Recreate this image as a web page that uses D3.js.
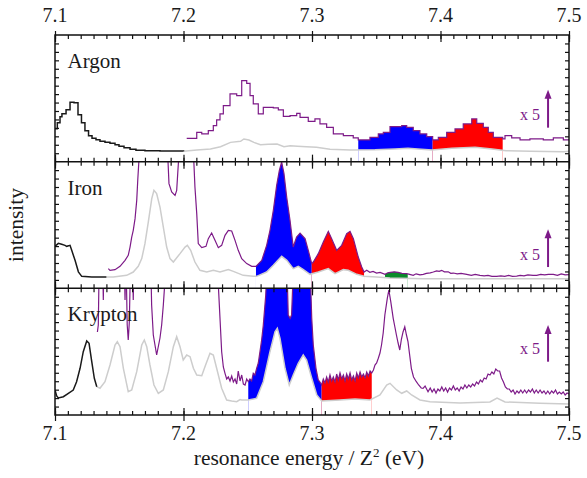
<!DOCTYPE html>
<html><head><meta charset="utf-8">
<script src="https://cdn.jsdelivr.net/npm/d3@7"></script>
<style>
html,body{margin:0;padding:0;background:#fff;}
svg{display:block;}
text{font-family:"Liberation Serif","Times New Roman",serif;fill:#1a1a1a;}
</style></head><body>
<svg id="c" width="587" height="478"></svg>
<script>
// ---------------- data ----------------
const panelNames = ["Argon", "Iron", "Krypton"];
const xTickValues = [7.1, 7.2, 7.3, 7.4, 7.5];
const xTickLabels = ["7.1", "7.2", "7.3", "7.4", "7.5"];
const xTitle = ["resonance energy / Z", "2", " (eV)"];
const yTitle = "intensity";
const scaleNote = "x 5";

const argonBlack = [[7.1000,33],[7.1018,39],[7.1039,45],[7.1054,48],[7.1086,52],[7.1117,59.5],[7.1148,59],[7.1179,47],[7.1206,39],[7.1233,31],[7.1261,26],[7.1288,23.5],[7.1319,22],[7.1350,20.5],[7.1389,19.5],[7.1428,18.5],[7.1467,17],[7.1498,15.5],[7.1537,14],[7.1584,12.5],[7.1630,11.5],[7.1700,11],[7.1817,10.7],[7.2000,10.5]];
const argonGray = [[7.2000,10.5],[7.2104,11.7],[7.2210,12.7],[7.2288,15],[7.2366,19.3],[7.2444,20.3],[7.2470,22.7],[7.2509,21.7],[7.2548,19.3],[7.2599,17],[7.2660,17.5],[7.2728,17.7],[7.2782,15],[7.2830,15.8],[7.2887,15.5],[7.2957,15],[7.3035,14.3],[7.3140,12.5],[7.3296,11.7],[7.3490,12],[7.3646,12.7],[7.3747,13.3],[7.3850,12.5],[7.3934,11.7],[7.4089,13.3],[7.4269,14.3],[7.4401,12.7],[7.4510,11],[7.4700,10.3],[7.4960,10],[7.5000,10.3]];
const argonPurple = [[7.2025,23.3],[7.2103,29.3],[7.2142,27.7],[7.2193,31],[7.2232,36],[7.2258,41.7],[7.2284,47.7],[7.2310,56],[7.2362,67.7],[7.2414,66],[7.2453,81],[7.2492,78.3],[7.2518,66],[7.2543,57.7],[7.2582,47.7],[7.2621,54.3],[7.2699,53.7],[7.2738,51.7],[7.2777,45.3],[7.2829,46],[7.2881,48.3],[7.2907,44.3],[7.2971,40.3],[7.3023,42.7],[7.3062,37.7],[7.3114,34.3],[7.3166,27.7],[7.3244,26],[7.3321,23.7],[7.3360,21.7],[7.3451,24.3],[7.3516,27.7],[7.3555,29.3],[7.3607,35],[7.3698,36],[7.3737,34.3],[7.3788,31],[7.3840,27.7],[7.3893,25],[7.3939,21.7],[7.3983,24.3],[7.4048,29.3],[7.4113,32.7],[7.4177,37.7],[7.4243,42.7],[7.4282,38.3],[7.4333,34.3],[7.4372,29.3],[7.4411,24.3],[7.4484,22.7],[7.4502,26],[7.4554,23.7],[7.4619,21.7],[7.4696,22.7],[7.4800,21.7],[7.4878,23.7],[7.4956,21.7],[7.5000,22.7]];
const argonRegions = [[7.3360,7.3939],[7.3939,7.4484]];

const ironBlack = [[7.1000,42],[7.1026,45],[7.1052,44],[7.1078,43],[7.1091,42],[7.1117,43],[7.1130,38],[7.1156,28],[7.1182,16.5],[7.1208,12],[7.1286,11.3],[7.1400,11.3]];
const ironGray = [[7.1400,11.3],[7.1454,11.3],[7.1558,13],[7.1609,16.3],[7.1648,22],[7.1675,29.7],[7.1700,44.7],[7.1726,66.3],[7.1753,89.7],[7.1770,98],[7.1791,94.7],[7.1817,81.3],[7.1843,61.3],[7.1869,41.3],[7.1895,29.7],[7.1921,26.3],[7.1973,34.7],[7.2012,41.3],[7.2030,43],[7.2056,38],[7.2089,26.3],[7.2128,18],[7.2181,16.3],[7.2232,18],[7.2284,16.3],[7.2349,18.7],[7.2388,17],[7.2465,13],[7.2543,12],[7.2569,12],[7.2647,16.3],[7.2699,23],[7.2764,32],[7.2804,28],[7.2854,19.7],[7.2893,22],[7.2930,19],[7.2984,14],[7.3049,16.3],[7.3127,19.7],[7.3179,14.7],[7.3244,18.7],[7.3282,18],[7.3348,14],[7.3405,12],[7.3503,11.3],[7.3607,10.3],[7.3866,9.7],[7.4385,9.7],[7.5000,9.7]];
const ironPurple = [[7.1415,19.7],[7.1428,18],[7.1467,18.7],[7.1506,22],[7.1545,28],[7.1570,33],[7.1584,41.3],[7.1597,51.3],[7.1609,58],[7.1623,69.7],[7.1636,88],[7.1644,108],[7.1654,130],[7.1675,200],[7.1726,330],[7.1770,470],[7.1817,390],[7.1850,220],[7.1875,140],[7.1887,104.7],[7.1908,96.3],[7.1934,93],[7.1947,98],[7.1955,114.7],[7.1965,135],[7.2012,190],[7.2040,200],[7.2065,150],[7.2080,128],[7.2089,101.3],[7.2103,74.7],[7.2115,44.7],[7.2142,40.7],[7.2175,42],[7.2193,49.7],[7.2219,55.3],[7.2245,48],[7.2271,40.7],[7.2297,43],[7.2323,53],[7.2349,58],[7.2375,57.3],[7.2401,48],[7.2426,38],[7.2453,29.7],[7.2492,24.7],[7.2531,22],[7.2564,22],[7.2609,28],[7.2647,43],[7.2673,58],[7.2699,78],[7.2725,103],[7.2746,118],[7.2764,126.3],[7.2782,114.7],[7.2803,91.3],[7.2829,68],[7.2854,41.3],[7.2880,51.3],[7.2907,55.3],[7.2946,49.7],[7.2971,38],[7.2998,24.7],[7.3010,26.3],[7.3049,34.7],[7.3088,46.3],[7.3127,57],[7.3153,49.7],[7.3192,38],[7.3231,43],[7.3270,54.7],[7.3296,57],[7.3322,49.7],[7.3360,31.3],[7.3387,21.3],[7.3405,16.3],[7.3426,18],[7.3450,16],[7.3475,17],[7.3503,15.3],[7.3530,16],[7.3568,14],[7.3590,15.5],[7.3610,16],[7.3640,16.5],[7.3670,16],[7.3700,15],[7.3737,14.7],[7.3760,14],[7.3788,13],[7.3810,14.5],[7.3840,13.5],[7.3866,14],[7.3890,15],[7.3920,15.5],[7.3944,16.3],[7.3970,17.5],[7.3990,17],[7.4009,18],[7.4030,16.5],[7.4060,16.5],[7.4080,15],[7.4100,15.3],[7.4130,14.5],[7.4160,15],[7.4204,14],[7.4240,13],[7.4270,14],[7.4307,13],[7.4340,12.5],[7.4370,13],[7.4400,12],[7.4437,12],[7.4470,12.5],[7.4500,12],[7.4530,13],[7.4560,12],[7.4593,12.3],[7.4620,13],[7.4650,12.5],[7.4680,13.5],[7.4720,13],[7.4749,13],[7.4780,14],[7.4810,13.5],[7.4840,14],[7.4878,14],[7.4910,13],[7.4940,14.5],[7.4970,13.5],[7.5000,13.7]];
const ironRegions = [[7.2564,7.2998],[7.2998,7.3405],[7.3568,7.3745]];

const kryptonBlack = [[7.1000,25],[7.1013,19],[7.1026,17],[7.1065,18.3],[7.1104,21.7],[7.1142,25],[7.1168,33.3],[7.1195,46.7],[7.1220,63.3],[7.1247,74],[7.1265,71.7],[7.1286,53.3],[7.1306,36.7],[7.1325,28.3]];
const kryptonGray = [[7.1325,28.3],[7.1350,26.7],[7.1389,33.3],[7.1428,50],[7.1467,70],[7.1485,73.3],[7.1506,68.3],[7.1532,46.7],[7.1570,23.3],[7.1597,25],[7.1636,43.3],[7.1675,70],[7.1695,75],[7.1714,68.3],[7.1739,50],[7.1770,30],[7.1804,21.7],[7.1843,25],[7.1882,43.3],[7.1921,68.3],[7.1947,78.3],[7.1973,68.3],[7.1998,55],[7.2025,60],[7.2051,58.3],[7.2077,46.7],[7.2103,40],[7.2142,39.3],[7.2167,48.3],[7.2206,61.7],[7.2232,60],[7.2258,46.7],[7.2297,26.7],[7.2336,15],[7.2375,14],[7.2414,13.3],[7.2440,15.5],[7.2453,15],[7.2504,15],[7.2569,16.7],[7.2621,33.3],[7.2673,63.3],[7.2712,83.3],[7.2730,86.7],[7.2751,76.7],[7.2790,46.7],[7.2823,30],[7.2854,40],[7.2893,51.7],[7.2932,60],[7.2958,55],[7.2998,36.7],[7.3037,20],[7.3075,14],[7.3218,15],[7.3335,16],[7.3451,15],[7.3529,20],[7.3581,30],[7.3607,31.7],[7.3659,25],[7.3698,21.7],[7.3737,24],[7.3775,20],[7.3840,15],[7.3918,13.3],[7.4152,12],[7.4385,13],[7.4440,17],[7.4502,13],[7.4774,11.7],[7.5000,11]];
const kryptonPurple = [[7.1330,83],[7.1337,90],[7.1342,135],[7.1360,140],[7.1372,145],[7.1376,115],[7.1380,150],[7.1428,220],[7.1467,300],[7.1506,290],[7.1532,180],[7.1541,140],[7.1545,115],[7.1549,140],[7.1555,140],[7.1562,90],[7.1570,75],[7.1578,92],[7.1586,140],[7.1605,140],[7.1609,115],[7.1613,150],[7.1675,300],[7.1714,300],[7.1739,200],[7.1748,135],[7.1752,110],[7.1765,80],[7.1791,60],[7.1817,77],[7.1830,90],[7.1843,110],[7.1856,135],[7.1882,170],[7.1947,330],[7.2025,250],[7.2103,150],[7.2142,150],[7.2206,260],[7.2258,180],[7.2271,130],[7.2284,96.7],[7.2297,63.3],[7.2310,48],[7.2323,41.7],[7.2336,36],[7.2349,38],[7.2362,34],[7.2375,39],[7.2388,33],[7.2401,36],[7.2414,31],[7.2426,44],[7.2440,34],[7.2453,40],[7.2466,31],[7.2479,30],[7.2492,36],[7.2504,33.3],[7.2517,36],[7.2530,34],[7.2543,41.7],[7.2556,40],[7.2569,46.7],[7.2582,52],[7.2595,63.3],[7.2608,75],[7.2621,90],[7.2640,120],[7.2660,180],[7.2700,350],[7.2750,450],[7.2790,250],[7.2805,150],[7.2815,100],[7.2830,96.7],[7.2841,100],[7.2856,150],[7.2900,300],[7.2950,250],[7.2985,150],[7.2998,96.7],[7.3010,70],[7.3031,46.7],[7.3049,35],[7.3062,33],[7.3075,30],[7.3088,36],[7.3101,32],[7.3114,38],[7.3127,33],[7.3140,40],[7.3153,34],[7.3166,38],[7.3179,33],[7.3192,41],[7.3205,35],[7.3218,42],[7.3231,36],[7.3244,40],[7.3257,34],[7.3270,41],[7.3283,36],[7.3296,42],[7.3309,35],[7.3322,39],[7.3335,34],[7.3348,42],[7.3361,37],[7.3374,43],[7.3387,38],[7.3400,41],[7.3413,37],[7.3426,43],[7.3439,39],[7.3452,44],[7.3465,42],[7.3478,45],[7.3490,50],[7.3503,52],[7.3516,56.7],[7.3529,62],[7.3541,70],[7.3554,82],[7.3567,100],[7.3586,116.7],[7.3598,125],[7.3613,113.3],[7.3632,96.7],[7.3645,88],[7.3657,80],[7.3670,72],[7.3683,65],[7.3696,76],[7.3709,83.3],[7.3722,88.3],[7.3735,80],[7.3747,73.3],[7.3760,60],[7.3773,46.7],[7.3790,38],[7.3812,33.3],[7.3830,30],[7.3850,27],[7.3864,26.7],[7.3880,29],[7.3903,23.3],[7.3920,27],[7.3935,23],[7.3950,26],[7.3965,22],[7.3980,26],[7.3995,24],[7.4010,28],[7.4025,24],[7.4040,27],[7.4055,23],[7.4070,27],[7.4085,25],[7.4100,29],[7.4115,25],[7.4130,27],[7.4145,24],[7.4160,28],[7.4175,26],[7.4190,30],[7.4205,27],[7.4220,30],[7.4235,28],[7.4250,31],[7.4265,29],[7.4280,33],[7.4295,31],[7.4310,35],[7.4325,33],[7.4340,37],[7.4355,36],[7.4370,41],[7.4385,40],[7.4400,43],[7.4415,41],[7.4430,46],[7.4445,44],[7.4460,44],[7.4475,37],[7.4490,33],[7.4505,28],[7.4520,26],[7.4535,26],[7.4550,23],[7.4565,25],[7.4580,21],[7.4595,24],[7.4610,22],[7.4625,25],[7.4640,22],[7.4655,25],[7.4670,22],[7.4685,25],[7.4700,23],[7.4715,26],[7.4730,22],[7.4745,25],[7.4760,22],[7.4775,25],[7.4790,22],[7.4805,24],[7.4820,21],[7.4835,24],[7.4850,21],[7.4865,24],[7.4880,22],[7.4895,25],[7.4910,21],[7.4925,23],[7.4940,21],[7.4955,23],[7.4970,20],[7.4985,22],[7.5000,21]];
const kryptonRegions = [[7.2504,7.3075],[7.3075,7.3465]];

// ---------------- layout & styles ----------------
const L = 55, R = 569, T = 35, B = 415;
const ph = (B - T) / 3;
const regionColors = ["#0000ff", "#ff0000", "#0a8a2a"];
const purpleColor = "#7d1a88", grayColor = "#cdcdcd", blackColor = "#1a1a1a";
const arrowX = 7.4837, noteX = 7.4774;
const arrowSpans = [[34, 72], [21.3, 59], [53.3, 90]];
const noteBase = [42, 28.7, 61];

const panels = [
  {black: argonBlack, gray: argonGray, purple: argonPurple, regions: argonRegions, step: true},
  {black: ironBlack, gray: ironGray, purple: ironPurple, regions: ironRegions, step: false},
  {black: kryptonBlack, gray: kryptonGray, purple: kryptonPurple, regions: kryptonRegions, step: false}
];

const svg = d3.select("#c");
const defs = svg.append("defs");
const x = d3.scaleLinear().domain([7.1, 7.5]).range([L, R]);
const minorTicks = d3.range(0, 41).map(i => +(7.1 + i * 0.01).toFixed(2));

panels.forEach((p, i) => {
  const y0 = T + ph * i, y1 = T + ph * (i + 1);
  const y = d3.scaleLinear().domain([0, ph]).range([y1, y0]);
  const cid = "clip" + i;
  defs.append("clipPath").attr("id", cid).append("rect")
    .attr("x", L).attr("y", y0).attr("width", R - L).attr("height", ph);
  const g = svg.append("g").attr("clip-path", `url(#${cid})`);
  const curve = p.step ? d3.curveStepAfter : d3.curveLinear;

  // filled regions between the x5 trace and the gray trace
  p.regions.forEach((r, k) => {
    const rid = `reg${i}_${k}`;
    defs.append("clipPath").attr("id", rid).append("rect")
      .attr("x", x(r[0])).attr("y", y0).attr("width", x(r[1]) - x(r[0])).attr("height", ph);
    const rg = g.append("g").attr("clip-path", `url(#${rid})`);
    rg.append("path").datum(p.purple)
      .attr("d", d3.area().curve(curve).x(d => x(d[0])).y0(y1).y1(d => y(d[1])))
      .attr("fill", regionColors[k]);
    rg.append("path").datum(p.gray)
      .attr("d", d3.area().x(d => x(d[0])).y0(y1 + 2).y1(d => y(d[1])))
      .attr("fill", "#fff");
  });

  const line = (c) => d3.line().curve(c).x(d => x(d[0])).y(d => y(d[1]));
  g.append("path").datum(p.gray).attr("d", line(d3.curveLinear))
    .attr("fill", "none").attr("stroke", grayColor).attr("stroke-width", 1.5);
  g.append("path").datum(p.black).attr("d", line(curve))
    .attr("fill", "none").attr("stroke", blackColor).attr("stroke-width", 1.5);
  g.append("path").datum(p.purple).attr("d", line(curve))
    .attr("fill", "none").attr("stroke", purpleColor).attr("stroke-width", 1.2);

  // panel name
  svg.append("text").attr("x", L + 12.5).attr("y", y0 + 33)
    .attr("font-size", 21).text(panelNames[i]);

  // x5 arrow and note
  const a = arrowSpans[i];
  const ax = x(arrowX);
  svg.append("line").attr("x1", ax).attr("x2", ax)
    .attr("y1", y(a[0])).attr("y2", y(a[1]) + 7)
    .attr("stroke", purpleColor).attr("stroke-width", 2);
  svg.append("path")
    .attr("d", `M${ax},${y(a[1])} L${ax - 3.5},${y(a[1]) + 9} L${ax + 3.5},${y(a[1]) + 9} Z`)
    .attr("fill", purpleColor);
  svg.append("text").attr("x", x(noteX)).attr("y", y(noteBase[i]))
    .attr("text-anchor", "end").attr("font-size", 16).style("fill", purpleColor)
    .text(scaleNote);

  // y ticks (left and right, inward)
  const yt = d3.range(1, 15).map(k => k * ph / 15);
  svg.append("g").attr("transform", `translate(${L},0)`)
    .call(d3.axisRight(y).tickValues(yt).tickSize(4).tickFormat(""))
    .call(s => s.select(".domain").remove());
  svg.append("g").attr("transform", `translate(${R},0)`)
    .call(d3.axisLeft(y).tickValues(yt).tickSize(4).tickFormat(""))
    .call(s => s.select(".domain").remove());

  // x ticks at top (down) and bottom (up) of each panel
  svg.append("g").attr("transform", `translate(0,${y0})`)
    .call(d3.axisBottom(x).tickValues(minorTicks).tickSize(4).tickFormat(""))
    .call(s => s.select(".domain").remove());
  svg.append("g").attr("transform", `translate(0,${y0})`)
    .call(d3.axisBottom(x).tickValues(xTickValues).tickSize(7).tickFormat(""))
    .call(s => s.select(".domain").remove());
  svg.append("g").attr("transform", `translate(0,${y1})`)
    .call(d3.axisTop(x).tickValues(minorTicks).tickSize(4).tickFormat(""))
    .call(s => s.select(".domain").remove());
  svg.append("g").attr("transform", `translate(0,${y1})`)
    .call(d3.axisTop(x).tickValues(xTickValues).tickSize(7).tickFormat(""))
    .call(s => s.select(".domain").remove());

  if (i > 0) {
    svg.append("line").attr("x1", L).attr("x2", R).attr("y1", y0).attr("y2", y0)
      .attr("stroke", "#111").attr("stroke-width", 1.5);
  }
});

// outward major ticks
svg.append("g").attr("transform", `translate(0,${T})`)
  .call(d3.axisTop(x).tickValues(xTickValues).tickSize(4).tickFormat(""))
  .call(s => s.select(".domain").remove());
svg.append("g").attr("transform", `translate(0,${B})`)
  .call(d3.axisBottom(x).tickValues(xTickValues).tickSize(6).tickFormat(""))
  .call(s => s.select(".domain").remove());
svg.selectAll(".tick line").attr("stroke", "#111").attr("stroke-width", 1.2);

// frame
svg.append("rect").attr("x", L).attr("y", T).attr("width", R - L).attr("height", B - T)
  .attr("fill", "none").attr("stroke", "#111").attr("stroke-width", 1.5);

// tick labels
xTickValues.forEach((v, k) => {
  svg.append("text").attr("x", x(v)).attr("y", 22).attr("text-anchor", "middle")
    .attr("font-size", 20).text(xTickLabels[k]);
  svg.append("text").attr("x", x(v)).attr("y", 440).attr("text-anchor", "middle")
    .attr("font-size", 20).text(xTickLabels[k]);
});

// axis titles
const xt = svg.append("text").attr("x", 309).attr("y", 465)
  .attr("text-anchor", "middle").attr("font-size", 21.5);
xt.append("tspan").text(xTitle[0]);
xt.append("tspan").attr("font-size", 13).attr("dy", -8).text(xTitle[1]);
xt.append("tspan").attr("dy", 8).text(xTitle[2]);

svg.append("text").attr("transform", `translate(23,${(T + B) / 2}) rotate(-90)`)
  .attr("text-anchor", "middle").attr("font-size", 21.5).text(yTitle);
</script>
</body></html>
